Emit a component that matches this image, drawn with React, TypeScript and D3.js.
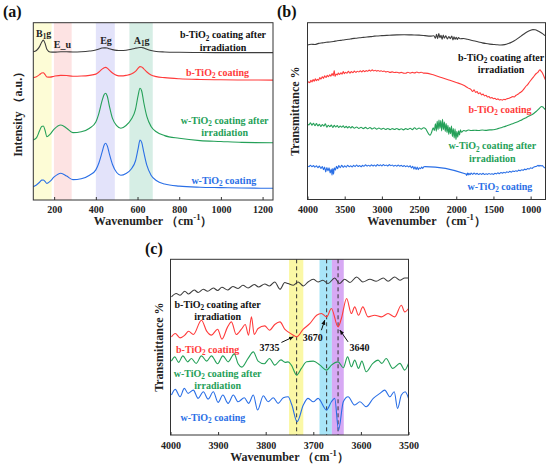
import React, { useEffect, useRef } from 'react';
import * as d3 from 'd3';

type Pt = [number, number];

const FONT = "'Liberation Serif', 'Times New Roman', serif";
const BLACK = '#3d3d3d';
const RED = '#ff3b3b';
const GREEN = '#24a058';
const BLUE = '#2a6fe6';

const seriesNames = ['b-TiO₂ coating after|irradiation', 'b-TiO₂ coating', 'w-TiO₂ coating after|irradiation', 'w-TiO₂ coating'];

// (a) Raman
const ramanTicks = [200, 400, 600, 800, 1000, 1200];
const ramanX = [100, 115, 130, 140, 148, 156, 165, 180, 200, 232, 260, 290, 330, 370, 400, 415, 430, 440, 447, 455,
  465, 480, 500, 520, 545, 570, 590, 603, 612, 620, 630, 645, 665, 690, 730, 800, 900, 1000, 1100, 1250];
const ramanBIrr = [83.6, 84.3, 86.5, 89, 90.2, 88.5, 85, 83.5, 83.4, 83.6, 83.6, 83.5, 83.6, 84, 84.6, 85.2, 85.7, 85.8, 85.8, 85.7,
  85.3, 84.8, 84.4, 84.3, 84.5, 85, 85.6, 85.9, 86, 86, 85.7, 85, 84.3, 83.8, 83.5, 83.3, 83.2, 83.1, 83.1, 83.1];
const ramanB = [69, 69.5, 70.7, 71.6, 71.8, 70.8, 69.4, 69.3, 69.8, 70.3, 70.2, 69.8, 69.9, 70.3, 71, 72.2, 73.8, 74.6, 74.8, 74.4,
  73.2, 71.6, 70.3, 70, 70.3, 71, 72.5, 74.3, 75.2, 75, 74, 72.2, 70.5, 69.6, 69, 68.4, 68, 67.8, 67.7, 67.6];
const ramanWIrr = [33.8, 35, 39, 41.5, 41.7, 39.5, 35.7, 37, 40, 42.3, 40.5, 38, 38.5, 40.5, 44, 49, 56, 59.5, 60.2, 58.5,
  53, 46, 42, 40.5, 42, 45.5, 51, 59, 63, 61.5, 55, 47, 41.5, 38.5, 36.3, 34.8, 33.5, 33, 32.5, 32.3];
const ramanW = [7.5, 8.5, 10, 11.2, 11.3, 10.5, 9.4, 10.5, 13, 15.1, 13.5, 11.5, 12, 14, 17, 21, 27, 31, 32, 30.5,
  26, 20, 15.5, 14, 15, 17.5, 22, 29, 33.8, 32.5, 27, 19.5, 14, 11, 9, 7.8, 7.2, 7, 6.8, 6.6];
const ramanBands: Pt[] = [[100, 188], [199, 284], [400, 491], [561, 673]];
const ramanModes = ['B₁g', 'E_u', 'Eg', 'A₁g'];
const ramanModeAt: Pt[] = [[150, 91.9], [240, 85.7], [449, 87.9], [620, 87.9]];
const ramanNameAt: Pt[] = [[1010, 91.1], [984, 69.8], [1018, 42.8], [1014, 9.3]];

// (b) FTIR full range
const ftirTicks = [4000, 3500, 3000, 2500, 2000, 1500, 1000];
const ftirBIrr: Pt[] = [[4000, 87.4], [3950, 87.8], [3900, 87.7], [3850, 88.3], [3800, 88.6], [3750, 88.9], [3700, 89.1], [3650, 89.4],
  [3600, 89.8], [3550, 90.0], [3500, 90.4], [3450, 90.6], [3400, 91.0], [3350, 91.2], [3300, 91.5], [3250, 91.7], [3200, 91.9],
  [3150, 92.1], [3100, 92.4], [3050, 92.5], [3000, 92.7], [2900, 92.9], [2800, 93.1], [2700, 93.2], [2600, 93.1], [2500, 93.0],
  [2420, 92.7], [2350, 92.4], [2300, 92.6], [2280, 91.2], [2265, 93.4], [2250, 91.0], [2235, 93.8], [2220, 91.5], [2205, 92.9],
  [2190, 90.6], [2175, 93.0], [2160, 91.3], [2140, 92.6], [2120, 90.8], [2100, 92.2], [2080, 91.0], [2060, 92.5], [2045, 90.2],
  [2030, 92.0], [2015, 90.6], [2000, 91.8], [1985, 90.5], [1970, 91.6], [1950, 90.9], [1900, 91.1], [1850, 90.6], [1800, 90.1],
  [1750, 89.6], [1700, 89.1], [1650, 88.6], [1600, 88.2], [1550, 87.9], [1500, 87.7], [1450, 87.5], [1400, 87.4], [1350, 87.6],
  [1300, 88.2], [1250, 89.1], [1200, 90.3], [1150, 91.8], [1100, 93.3], [1050, 94.7], [1000, 95.7], [970, 96.1], [940, 96.0],
  [900, 95.3], [870, 94.6], [840, 93.8], [800, 92.5]];
const ftirB: Pt[] = [[4000, 65.8], [3985, 66.6], [3970, 66.0], [3955, 67.4], [3940, 66.5], [3925, 67.8], [3910, 66.9], [3895, 68.3],
  [3880, 67.2], [3865, 68.0], [3850, 67.4], [3835, 69.0], [3820, 68.1], [3800, 69.4], [3785, 68.5], [3770, 69.9], [3750, 69.0],
  [3735, 70.3], [3720, 69.5], [3700, 70.6], [3685, 69.8], [3670, 71.2], [3655, 70.0], [3640, 73.0], [3630, 69.6], [3615, 71.0],
  [3600, 70.4], [3585, 71.5], [3570, 70.7], [3550, 71.6], [3535, 70.9], [3520, 72.4], [3505, 71.2], [3490, 72.0], [3470, 71.4],
  [3450, 72.5], [3430, 71.5], [3410, 72.3], [3390, 71.7], [3370, 72.6], [3350, 71.9], [3330, 72.5], [3310, 72.1], [3290, 72.8],
  [3270, 72.2], [3250, 73.0], [3230, 72.3], [3210, 72.9], [3190, 72.5], [3170, 73.2], [3150, 72.6], [3130, 73.3], [3110, 72.7],
  [3090, 73.1], [3070, 72.6], [3050, 73.0], [3030, 72.5], [3010, 72.8], [2990, 72.4], [2970, 72.7], [2950, 72.2], [2920, 72.4],
  [2890, 71.9], [2860, 72.2], [2830, 71.8], [2800, 72.0], [2770, 71.6], [2740, 71.9], [2710, 71.5], [2680, 71.4], [2650, 72.0],
  [2620, 71.5], [2590, 71.9], [2560, 71.6], [2530, 72.1], [2500, 71.7], [2470, 72.0], [2440, 71.5], [2420, 71.5], [2300, 70.4],
  [2200, 69.0], [2100, 67.6], [2000, 66.2], [1900, 64.6], [1838, 63.0], [1800, 62.2], [1780, 61.1], [1760, 62.0], [1740, 60.6],
  [1720, 61.0], [1700, 59.8], [1680, 60.4], [1660, 59.2], [1640, 59.6], [1620, 58.6], [1600, 58.9], [1580, 58.0], [1560, 58.2],
  [1540, 57.4], [1520, 57.7], [1500, 57.0], [1480, 57.2], [1460, 56.6], [1440, 56.9], [1420, 56.3], [1400, 56.5], [1380, 56.2],
  [1360, 56.7], [1340, 56.5], [1320, 57.0], [1300, 57.1], [1280, 57.4], [1260, 57.9], [1240, 58.2], [1220, 58.0], [1200, 58.8],
  [1180, 59.3], [1160, 59.9], [1140, 60.5], [1120, 61.1], [1100, 62.0], [1080, 63.1], [1060, 64.2], [1040, 65.0], [1020, 66.2],
  [1000, 67.3], [985, 68.1], [960, 69.4], [941, 70.5], [920, 71.4], [900, 72.0], [885, 73.0], [874, 73.4], [860, 72.6],
  [845, 71.8], [830, 70.5], [815, 69.0], [800, 67.6]];
const ftirWIrr: Pt[] = [[4000, 42.8], [3980, 42.2], [3960, 43.4], [3940, 42.0], [3920, 43.1], [3900, 41.8], [3880, 42.9], [3860, 41.6],
  [3840, 42.5], [3820, 41.3], [3800, 42.4], [3780, 41.5], [3760, 42.8], [3740, 40.9], [3720, 42.0], [3700, 41.2], [3680, 42.1],
  [3660, 40.8], [3640, 41.9], [3620, 41.0], [3600, 41.8], [3580, 40.7], [3560, 41.6], [3540, 40.9], [3520, 41.7], [3500, 40.6],
  [3480, 41.4], [3460, 40.5], [3440, 41.3], [3420, 40.4], [3400, 41.2], [3370, 40.3], [3340, 41.0], [3310, 40.2], [3280, 40.9],
  [3250, 40.1], [3220, 40.8], [3190, 40.0], [3160, 40.7], [3130, 39.9], [3100, 40.6], [3070, 39.8], [3040, 40.4], [3010, 39.7],
  [2980, 40.3], [2950, 39.6], [2920, 40.2], [2890, 39.5], [2860, 40.1], [2830, 39.6], [2800, 40.2], [2770, 39.5], [2740, 40.0],
  [2710, 39.4], [2680, 40.1], [2650, 39.6], [2620, 40.3], [2590, 39.5], [2560, 40.6], [2530, 39.7], [2500, 40.4], [2470, 39.8],
  [2440, 40.6], [2410, 39.9], [2390, 38.5], [2370, 37.0], [2350, 36.4], [2330, 38.2], [2310, 40.5], [2295, 39.0], [2280, 42.8],
  [2268, 38.6], [2256, 44.2], [2244, 39.5], [2232, 45.0], [2220, 40.2], [2208, 44.6], [2196, 38.8], [2184, 45.4], [2172, 39.6],
  [2160, 43.8], [2148, 38.5], [2136, 43.0], [2124, 37.8], [2112, 41.9], [2100, 36.9], [2088, 40.9], [2076, 37.2], [2064, 41.5],
  [2052, 35.6], [2040, 40.2], [2028, 34.8], [2016, 39.8], [2004, 33.9], [1992, 38.6], [1980, 35.2], [1968, 38.9], [1956, 36.5],
  [1944, 39.4], [1930, 38.0], [1900, 39.0], [1870, 38.7], [1838, 39.3], [1800, 39.0], [1750, 39.2], [1700, 39.0], [1650, 39.3],
  [1600, 39.1], [1550, 39.4], [1523, 39.4], [1480, 39.6], [1440, 40.1], [1400, 40.6], [1360, 41.1], [1320, 41.7], [1280, 42.3],
  [1240, 42.9], [1200, 43.5], [1165, 44.1], [1130, 44.8], [1100, 45.5], [1060, 46.3], [1020, 47.2], [985, 47.9], [950, 48.9],
  [920, 50.0], [890, 51.2], [870, 52.1], [851, 52.6], [835, 52.3], [820, 51.6], [807, 51.1], [800, 51.0]];
const ftirW: Pt[] = [[4000, 19.0], [3980, 18.6], [3960, 19.4], [3940, 18.5], [3920, 19.2], [3900, 18.3], [3880, 19.0], [3860, 18.0],
  [3840, 18.9], [3820, 17.6], [3800, 18.7], [3785, 16.9], [3770, 18.4], [3755, 15.6], [3740, 18.1], [3725, 16.2], [3710, 17.9],
  [3695, 15.0], [3680, 17.2], [3670, 13.8], [3660, 17.5], [3650, 14.3], [3640, 18.0], [3625, 16.6], [3610, 18.8], [3595, 17.4],
  [3580, 19.2], [3560, 18.0], [3540, 19.3], [3520, 18.2], [3500, 19.0], [3480, 18.3], [3460, 19.4], [3440, 18.5], [3420, 19.1],
  [3400, 18.4], [3380, 19.3], [3360, 18.6], [3340, 19.5], [3320, 18.7], [3300, 19.2], [3280, 18.5], [3260, 19.3], [3240, 18.8],
  [3220, 19.6], [3200, 18.9], [3180, 19.4], [3160, 18.8], [3140, 19.6], [3120, 19.0], [3100, 19.5], [3080, 18.9], [3060, 19.7],
  [3040, 19.1], [3020, 19.6], [3000, 19.0], [2980, 19.8], [2960, 19.1], [2940, 19.5], [2920, 19.0], [2900, 19.7], [2880, 19.1],
  [2860, 19.5], [2840, 18.9], [2820, 19.4], [2800, 18.8], [2780, 19.5], [2760, 18.9], [2740, 19.3], [2720, 18.7], [2700, 19.2],
  [2680, 18.6], [2660, 19.1], [2640, 18.4], [2620, 19.0], [2600, 17.9], [2585, 18.8], [2570, 17.2], [2555, 18.5], [2540, 17.0],
  [2525, 18.3], [2510, 16.9], [2495, 18.0], [2480, 17.4], [2465, 18.4], [2450, 17.6], [2435, 18.5], [2420, 18.6], [1870, 14.4],
  [1860, 13.6], [1850, 15.0], [1840, 13.9], [1830, 14.8], [1815, 14.0], [1800, 14.9], [1780, 14.2], [1760, 15.0], [1740, 14.3],
  [1720, 14.8], [1700, 14.1], [1680, 14.7], [1660, 14.2], [1640, 14.8], [1620, 14.1], [1600, 14.6], [1580, 14.2], [1560, 14.7],
  [1540, 14.3], [1520, 14.6], [1500, 14.2], [1480, 14.8], [1460, 14.5], [1440, 15.1], [1420, 14.6], [1400, 15.3], [1380, 14.9],
  [1360, 15.4], [1340, 15.0], [1320, 15.7], [1300, 15.3], [1280, 15.9], [1260, 15.5], [1240, 16.1], [1220, 15.8], [1200, 16.3],
  [1180, 15.9], [1160, 16.6], [1140, 16.3], [1120, 16.8], [1100, 16.5], [1080, 17.2], [1060, 16.8], [1040, 17.5], [1020, 17.2],
  [1000, 17.9], [980, 17.6], [960, 18.3], [941, 18.6], [920, 18.8], [900, 19.3], [885, 18.9], [874, 19.4], [860, 19.0],
  [845, 19.2], [830, 18.6], [815, 18.0], [800, 17.6]];
const ftirNameAt: Pt[] = [[1398, 78.4], [1412, 49.0], [1515, 28.3], [1412, 5.3]];

// (c) FTIR hydroxyl region
const ohTicks = [4000, 3900, 3800, 3700, 3600, 3500];
const ohBIrr: Pt[] = [[3998, 138.3], [3988, 141.7], [3980, 140], [3970, 144], [3962, 141.3], [3950, 145.3], [3942, 142.7], [3931, 146],
  [3922, 144], [3910, 147.3], [3901, 144.7], [3892, 148], [3880, 145.3], [3869, 148.7], [3858, 146.7], [3848, 150], [3837, 147.3],
  [3824, 150.7], [3815, 148.3], [3802, 151.3], [3792, 149.3], [3781, 153.3], [3770, 146], [3760, 152.7], [3753, 151.7], [3742, 150],
  [3732, 153.3], [3721, 149.3], [3711, 153.3], [3700, 156], [3690, 153.3], [3680, 155], [3669, 151.7], [3655, 157.3], [3645, 151.7],
  [3634, 156], [3623, 152.7], [3609, 158.3], [3596, 153.3], [3581, 156], [3568, 154], [3553, 157.3], [3543, 154], [3529, 158.3],
  [3518, 155], [3508, 157.3], [3500, 157.3]];
const ohB: Pt[] = [[3998, 98.3], [3990, 101.7], [3980, 97.3], [3970, 100], [3962, 104], [3952, 100.7], [3935, 115], [3924, 104],
  [3914, 100], [3901, 106], [3892, 96], [3880, 108.3], [3872, 113.3], [3862, 100.7], [3851, 106], [3843, 110.7], [3836, 100],
  [3830, 118.3], [3824, 100.7], [3816, 106.7], [3802, 109.3], [3792, 105], [3781, 110.7], [3770, 113.3], [3760, 106], [3753, 103.3],
  [3742, 100], [3735, 98.3], [3721, 106], [3707, 111.7], [3693, 120], [3683, 121.7], [3672, 118.3], [3662, 126.7], [3648, 108.3],
  [3641, 116.7], [3630, 136.7], [3620, 121.7], [3613, 128.3], [3605, 120], [3596, 128.3], [3585, 118.3], [3571, 120], [3557, 118.3],
  [3543, 121.7], [3529, 118.3], [3515, 130], [3508, 123.3], [3500, 126.7]];
const ohWIrr: Pt[] = [[3998, 74], [3991, 78.3], [3983, 72.7], [3974, 79.3], [3964, 73.3], [3956, 76.7], [3946, 71.7], [3935, 79.3],
  [3924, 74], [3914, 79.3], [3901, 71.3], [3890, 79.3], [3879, 73.3], [3866, 81.3], [3858, 71.3], [3850, 68], [3837, 76.7],
  [3826, 83.3], [3816, 74], [3803, 71.3], [3792, 76.7], [3781, 70], [3768, 75.3], [3759, 72.7], [3753, 73.3], [3746, 70],
  [3735, 60], [3725, 66.7], [3714, 73.3], [3700, 74], [3686, 70], [3672, 65], [3662, 70], [3648, 73.3], [3637, 67.3], [3628, 78.3],
  [3620, 68.3], [3613, 75], [3605, 66.7], [3598, 74], [3589, 63.3], [3575, 71.7], [3564, 75], [3556, 71.7], [3547, 76.7],
  [3533, 66.7], [3518, 71.7], [3508, 65], [3500, 71.7]];
const ohW: Pt[] = [[3998, 40], [3990, 45.7], [3980, 38.3], [3971, 46.7], [3963, 41.7], [3952, 45], [3942, 36.7], [3931, 43.3],
  [3921, 36], [3910, 43.3], [3900, 32.7], [3890, 40], [3879, 31.7], [3868, 40], [3858, 33.3], [3845, 37.3], [3836, 31.7], [3826, 40],
  [3817, 25], [3805, 39.3], [3795, 33.3], [3784, 37.3], [3774, 31.7], [3763, 37.3], [3753, 38.3], [3745, 30], [3734, 13.3],
  [3721, 30], [3711, 36.7], [3700, 33.3], [3690, 36.7], [3672, 25], [3662, 33.3], [3655, 36.7], [3647, 5], [3637, 33.3],
  [3627, 38.3], [3613, 30], [3602, 33.3], [3589, 28.3], [3574, 36.7], [3560, 41.7], [3550, 45], [3539, 38.3], [3530, 43.3],
  [3523, 26.7], [3515, 40], [3507, 43.3], [3500, 36.7]];
const ohBands: Pt[] = [[3751, 3721], [3687, 3661], [3661, 3636]];
const ohDashes = [3735, 3672, 3648];
const ohNameAt: Pt[] = [[3901, 127.2], [3922, 82.2], [3901, 58.2], [3911, 13.8]];
const ohPeaks = ['3735', '3670', '3640'];
const ohPeakTextAt: Pt[] = [[3792, 84], [3701, 94.5], [3603, 84.5]];
const ohPeakArrows: [Pt, Pt][] = [[[3767, 92.7], [3742, 98.3]], [[3683, 105], [3676, 115]], [[3627, 93.3], [3644, 105]]];

const colors = [BLACK, RED, GREEN, BLUE];
const textColors = ['#111', RED, GREEN, BLUE];

// subscript / superscript runs for TiO₂, B₁g and cm⁻¹
function rich(text: d3.Selection<SVGTextElement, unknown, null, undefined>, str: string, size: number) {
  const runs: { t: string; s: number }[] = [];
  for (const ch of str) {
    let t = ch, s = 0;
    if (ch === '₂') { t = '2'; s = 1; }
    else if (ch === '₁') { t = '1'; s = 1; }
    else if (ch === '⁻') { t = '-'; s = -1; }
    else if (ch === '¹') { t = '1'; s = -1; }
    const last = runs[runs.length - 1];
    if (last && last.s === s) last.t += t; else runs.push({ t, s });
  }
  let cur = 0;
  runs.forEach(r => {
    const target = r.s > 0 ? size * 0.22 : r.s < 0 ? -size * 0.4 : 0;
    text.append('tspan')
      .attr('dy', target - cur)
      .attr('font-size', r.s === 0 ? size : size * 0.72)
      .text(r.t);
    cur = target;
  });
}

interface Panel {
  tag: string;
  tagAt: Pt;
  box: { l: number; r: number; t: number; b: number };
  xDomain: Pt;
  yDomain: Pt;
  ticks: number[];
  tickPad: number;
  titleY: number;
  yTitle: string;
  yTitleX: number;
  bands: Pt[];
  bandColors: string[];
  dashes: number[];
  series: Pt[][];
  nameAt: Pt[];
}

const App: React.FC = () => {
  const svgRef = useRef<SVGSVGElement | null>(null);

  useEffect(() => {
    if (!svgRef.current) return;
    const svg = d3.select(svgRef.current);
    svg.selectAll('*').remove();

    const panels: Panel[] = [
      {
        tag: '(a)', tagAt: [3, 17], box: { l: 33.3, r: 273, t: 22.7, b: 200 },
        xDomain: [100, 1250], yDomain: [0, 100], ticks: ramanTicks, tickPad: 6, titleY: 225,
        yTitle: 'Intensity （a.u.）', yTitleX: 22,
        bands: ramanBands, bandColors: ['#fdfcd6', '#fde3e3', '#e3e3fa', '#d6eee5'], dashes: [],
        series: [ramanBIrr, ramanB, ramanWIrr, ramanW].map(ys => ys.map((y, i) => [ramanX[i], y] as Pt)),
        nameAt: ramanNameAt,
      },
      {
        tag: '(b)', tagAt: [277, 17], box: { l: 307.5, r: 545.5, t: 22.7, b: 199.5 },
        xDomain: [4000, 800], yDomain: [0, 100], ticks: ftirTicks, tickPad: 6.5, titleY: 225,
        yTitle: 'Transmittance %', yTitleX: 299,
        bands: [], bandColors: [], dashes: [],
        series: [ftirBIrr, ftirB, ftirWIrr, ftirW], nameAt: ftirNameAt,
      },
      {
        tag: '(c)', tagAt: [145, 254], box: { l: 170.5, r: 408.5, t: 259.3, b: 435 },
        xDomain: [4000, 3500], yDomain: [0, 176], ticks: ohTicks, tickPad: 7, titleY: 461,
        yTitle: 'Transmittance %', yTitleX: 162.5,
        bands: ohBands, bandColors: ['#fbf8a6', '#a9e5f8', '#d7a9f4'], dashes: ohDashes,
        series: [ohBIrr, ohB, ohWIrr, ohW], nameAt: ohNameAt,
      },
    ];

    const scales: { x: d3.ScaleLinear<number, number>; y: d3.ScaleLinear<number, number> }[] = [];

    panels.forEach(p => {
      const { l, r, t, b } = p.box;
      const x = d3.scaleLinear().domain(p.xDomain).range([l, r]);
      const y = d3.scaleLinear().domain(p.yDomain).range([b, t]);
      scales.push({ x, y });
      const g = svg.append('g');

      g.selectAll('rect.band').data(p.bands).enter().append('rect')
        .attr('x', d => Math.min(x(d[0]), x(d[1])))
        .attr('width', d => Math.abs(x(d[1]) - x(d[0])))
        .attr('y', t).attr('height', b - t)
        .attr('fill', (_, i) => p.bandColors[i]);

      g.selectAll('line.dash').data(p.dashes).enter().append('line')
        .attr('x1', d => x(d)).attr('x2', d => x(d))
        .attr('y1', t).attr('y2', b)
        .attr('stroke', '#333').attr('stroke-width', 1).attr('stroke-dasharray', '4,3');

      const line = d3.line<Pt>().x(d => x(d[0])).y(d => y(d[1])).curve(d3.curveMonotoneX);
      p.series.forEach((s, i) => {
        g.append('path').attr('d', line(s)).attr('fill', 'none')
          .attr('stroke', colors[i]).attr('stroke-width', 1.1).attr('stroke-linejoin', 'round');
      });

      g.append('rect').attr('x', l).attr('y', t).attr('width', r - l).attr('height', b - t)
        .attr('fill', 'none').attr('stroke', '#333').attr('stroke-width', 1);

      const axis = g.append('g').attr('transform', `translate(0,${b})`)
        .call(d3.axisBottom(x).tickValues(p.ticks).tickSizeInner(-3).tickSizeOuter(0)
          .tickPadding(p.tickPad).tickFormat(d3.format('d')));
      axis.select('.domain').remove();
      axis.selectAll('line').attr('stroke', '#333');
      axis.attr('font-family', FONT).attr('font-size', 10).attr('font-weight', 'bold');
      axis.selectAll('text').attr('font-family', FONT).attr('font-size', 10)
        .attr('font-weight', 'bold').attr('fill', '#222');

      const xt = g.append('text').attr('x', (l + r) / 2).attr('y', p.titleY)
        .attr('text-anchor', 'middle').attr('font-family', FONT).attr('font-weight', 'bold').attr('fill', '#222');
      rich(xt, 'Wavenumber （cm⁻¹）', 12);

      const yt = g.append('text')
        .attr('transform', `translate(${p.yTitleX},${(t + b) / 2}) rotate(-90)`)
        .attr('text-anchor', 'middle').attr('font-family', FONT).attr('font-weight', 'bold').attr('fill', '#222');
      rich(yt, p.yTitle, 12);

      g.append('text').attr('x', p.tagAt[0]).attr('y', p.tagAt[1])
        .attr('font-family', FONT).attr('font-weight', 'bold').attr('font-size', 16).attr('fill', '#111')
        .text(p.tag);

      seriesNames.forEach((name, i) => {
        const [nx, ny] = p.nameAt[i];
        name.split('|').forEach((part, k) => {
          const tx = g.append('text').attr('x', x(nx)).attr('y', y(ny) + k * 12.2)
            .attr('text-anchor', 'middle').attr('font-family', FONT).attr('font-weight', 'bold')
            .attr('fill', textColors[i]);
          rich(tx, part, 10);
        });
      });
    });

    // Raman mode labels
    const sa = scales[0];
    ramanModes.forEach((m, i) => {
      const tx = svg.append('text').attr('x', sa.x(ramanModeAt[i][0])).attr('y', sa.y(ramanModeAt[i][1]))
        .attr('text-anchor', 'middle').attr('font-family', FONT).attr('font-weight', 'bold').attr('fill', '#222');
      rich(tx, m, 10);
    });

    // hydroxyl peak annotations
    const sc = scales[2];
    svg.append('defs').append('marker').attr('id', 'arr').attr('viewBox', '0 0 10 10')
      .attr('refX', 9).attr('refY', 5).attr('markerWidth', 5).attr('markerHeight', 5).attr('orient', 'auto')
      .append('path').attr('d', 'M0,1L10,5L0,9z').attr('fill', '#111');
    ohPeaks.forEach((lbl, i) => {
      svg.append('text').attr('x', sc.x(ohPeakTextAt[i][0])).attr('y', sc.y(ohPeakTextAt[i][1]))
        .attr('text-anchor', 'middle').attr('font-family', FONT).attr('font-weight', 'bold')
        .attr('font-size', 10).attr('fill', '#111').text(lbl);
      const [a, bb] = ohPeakArrows[i];
      svg.append('line').attr('x1', sc.x(a[0])).attr('y1', sc.y(a[1]))
        .attr('x2', sc.x(bb[0])).attr('y2', sc.y(bb[1]))
        .attr('stroke', '#111').attr('stroke-width', 1).attr('marker-end', 'url(#arr)');
    });
  }, []);

  return (
    <svg ref={svgRef} width={550} height={468}
      style={{ position: 'absolute', left: 0, top: 0, background: '#fff' }} />
  );
};

export default App;
